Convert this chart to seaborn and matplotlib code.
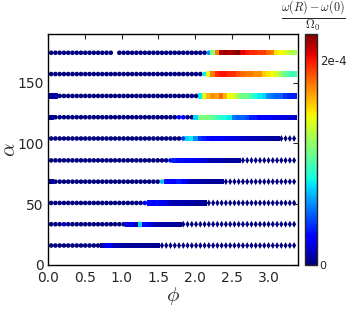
import matplotlib
matplotlib.use("Agg")
import matplotlib.pyplot as plt
import numpy as np
import pandas as pd
import seaborn as sns


# phi grid (x positions of the markers along each row)
PHI = [0.042, 0.100, 0.158, 0.216, 0.274, 0.332, 0.390, 0.448, 0.506, 0.564,
       0.622, 0.680, 0.738, 0.796, 0.854, 0.912, 0.970, 1.028, 1.086, 1.144,
       1.202, 1.260, 1.318, 1.376, 1.434, 1.492, 1.550, 1.608, 1.666, 1.724,
       1.782, 1.840, 1.898, 1.956, 2.014, 2.072, 2.130, 2.188, 2.246, 2.304,
       2.362, 2.420, 2.478, 2.536, 2.594, 2.652, 2.710, 2.768, 2.826, 2.884,
       2.942, 3.000, 3.058, 3.116, 3.174, 3.232, 3.290, 3.348]

ALPHA = [16, 33.5, 51, 68.5, 86, 104, 121.5, 139, 157, 174.5]

# number of leading circle markers per row
N_CIRCLE = [12, 18, 23, 27, 29, 32, 34, 35, 37, 38]

# square-marker values per row, in units of 1e-4 (remaining points are diamonds at 0)
SQUARE_VALS = [
    [0.06, 0.22, 0.25, 0.12, 0.08, 0.07, 0.06, 0.06, 0.05, 0.05, 0.04, 0.04, 0.04, 0.03],
    [0.25, 0.2, 0.1, 0.75, 0.3, 0.25, 0.12, 0.1, 0.08, 0.07, 0.06, 0.05, 0.05],
    [0.3, 0.25, 0.3, 0.22, 0.2, 0.12, 0.1, 0.1, 0.08, 0.08, 0.07, 0.06, 0.06, 0.05],
    [0.3, 0.3, 0.25, 0.35, 0.25, 0.2, 0.1, 0.1, 0.08, 0.07, 0.06, 0.06, 0.05, 0.05],
    [0.35, 0.3, 0.3, 0.25, 0.25, 0.22, 0.2, 0.18, 0.12, 0.1, 0.1, 0.08, 0.08, 0.06, 0.06, 0.05],
    [0.75, 0.8, 0.6, 0.4, 0.35, 0.3, 0.28, 0.25, 0.25, 0.22, 0.2, 0.2, 0.18, 0.15, 0.12,
     0.12, 0.1, 0.1, 0.08, 0.08, 0.07, 0.06],
    [0.75, 1.1, 1.15, 1.1, 1.05, 0.95, 0.9, 0.85, 0.8, 0.55, 0.5, 0.5, 0.45, 0.35, 0.35,
     0.28, 0.25, 0.25, 0.22, 0.2, 0.2, 0.18, 0.18, 0.15],
    [0.8, 1.35, 1.6, 1.7, 1.65, 1.8, 1.6, 1.45, 1.4, 1.2, 1.1, 1.05, 1.0, 0.85, 0.8, 0.75,
     0.6, 0.55, 0.5, 0.5, 0.4, 0.35, 0.35],
    [1.4, 1.75, 1.95, 2.0, 2.0, 1.95, 1.95, 1.85, 1.8, 1.75, 1.75, 1.7, 1.7, 1.55, 1.5,
     1.45, 1.35, 1.2, 1.05, 1.0, 0.95],
    [1.15, 1.75, 2.15, 2.2, 2.15, 2.2, 2.25, 2.05, 2.0, 1.95, 1.95, 1.9, 1.9, 1.8, 1.75,
     1.5, 1.45, 1.4, 1.3, 1.25],
]

# circles that are not at zero: (row, index, value)
CIRCLE_EXTRA = [(1, 3, 0.15), (2, 22, 0.25), (3, 26, 0.7), (4, 28, 0.3), (5, 31, 0.4),
                (6, 30, 0.3), (6, 31, 0.3), (8, 36, 0.8), (9, 37, 0.6)]
# leading points drawn as squares: (row, index, value)
LEAD_SQUARES = [(3, 0, 0.05), (6, 0, 0.05), (7, 0, 0.08), (7, 1, 0.05)]
MISSING = [(9, 15)]

VMAX = 2.25
JET = matplotlib.colormaps["jet"]


def build_frame():
    rows = []
    extra = {(r, i): v for r, i, v in CIRCLE_EXTRA}
    lead = {(r, i): v for r, i, v in LEAD_SQUARES}
    for r, a in enumerate(ALPHA):
        nc = N_CIRCLE[r]
        sq = SQUARE_VALS[r]
        for i, p in enumerate(PHI):
            if (r, i) in MISSING:
                continue
            if (r, i) in lead:
                kind, val = "s", lead[(r, i)]
            elif i < nc:
                kind, val = "o", extra.get((r, i), 0.0)
            elif i < nc + len(sq):
                kind, val = "s", sq[i - nc]
            else:
                kind, val = "d", 0.0
            rows.append({"phi": p, "alpha": a, "val": val, "kind": kind})
    return pd.DataFrame(rows)


df = build_frame()

sns.set_style("white")
plt.rcParams["mathtext.fontset"] = "cm"
plt.rcParams["font.family"] = ["DejaVu Sans"]

fig = plt.figure(figsize=(3.46, 3.20), dpi=100)
ax = fig.add_axes([0.139, 0.172, 0.722, 0.722])

sizes = {"o": 11, "s": 15, "d": 12}
for kind, s in sizes.items():
    sub = df[df["kind"] == kind]
    sns.scatterplot(data=sub, x="phi", y="alpha", hue="val", palette=JET,
                    hue_norm=(0, VMAX), marker=kind, s=s, linewidth=0,
                    legend=False, ax=ax)

ax.set_xlim(0, 3.4)
ax.set_ylim(0, 190)
ax.set_xticks([0.0, 0.5, 1.0, 1.5, 2.0, 2.5, 3.0])
ax.set_xticklabels(["0.0", "0.5", "1.0", "1.5", "2.0", "2.5", "3.0"])
ax.set_yticks([0, 50, 100, 150])
ax.tick_params(direction="in", top=True, right=True, length=3.5, width=0.8,
               labelsize=10, pad=3)
ax.tick_params(axis="x", pad=4.5)
ax.set_xlabel(r"$\phi$", fontsize=15, labelpad=0)
ax.set_ylabel(r"$\alpha$", fontsize=15, labelpad=-1)
for sp in ax.spines.values():
    sp.set_linewidth(1.0)
    sp.set_color("black")

cax = fig.add_axes([0.881, 0.172, 0.035, 0.722])
sm = plt.cm.ScalarMappable(cmap=JET, norm=plt.Normalize(0, VMAX))
cb = fig.colorbar(sm, cax=cax, ticks=[0, 2])
cb.ax.set_yticklabels(["0", "2e-4"])
cb.ax.tick_params(direction="in", length=3, labelsize=8.5, pad=2)
cb.ax.get_yticklabels()[0].set_fontsize(8)
cb.outline.set_linewidth(1.0)

fig.text(0.906, 0.947, r"$\frac{\omega(R)-\omega(0)}{\Omega_0}$", ha="center",
         va="center", fontsize=12.5)

fig.savefig("out.png", dpi=100)
